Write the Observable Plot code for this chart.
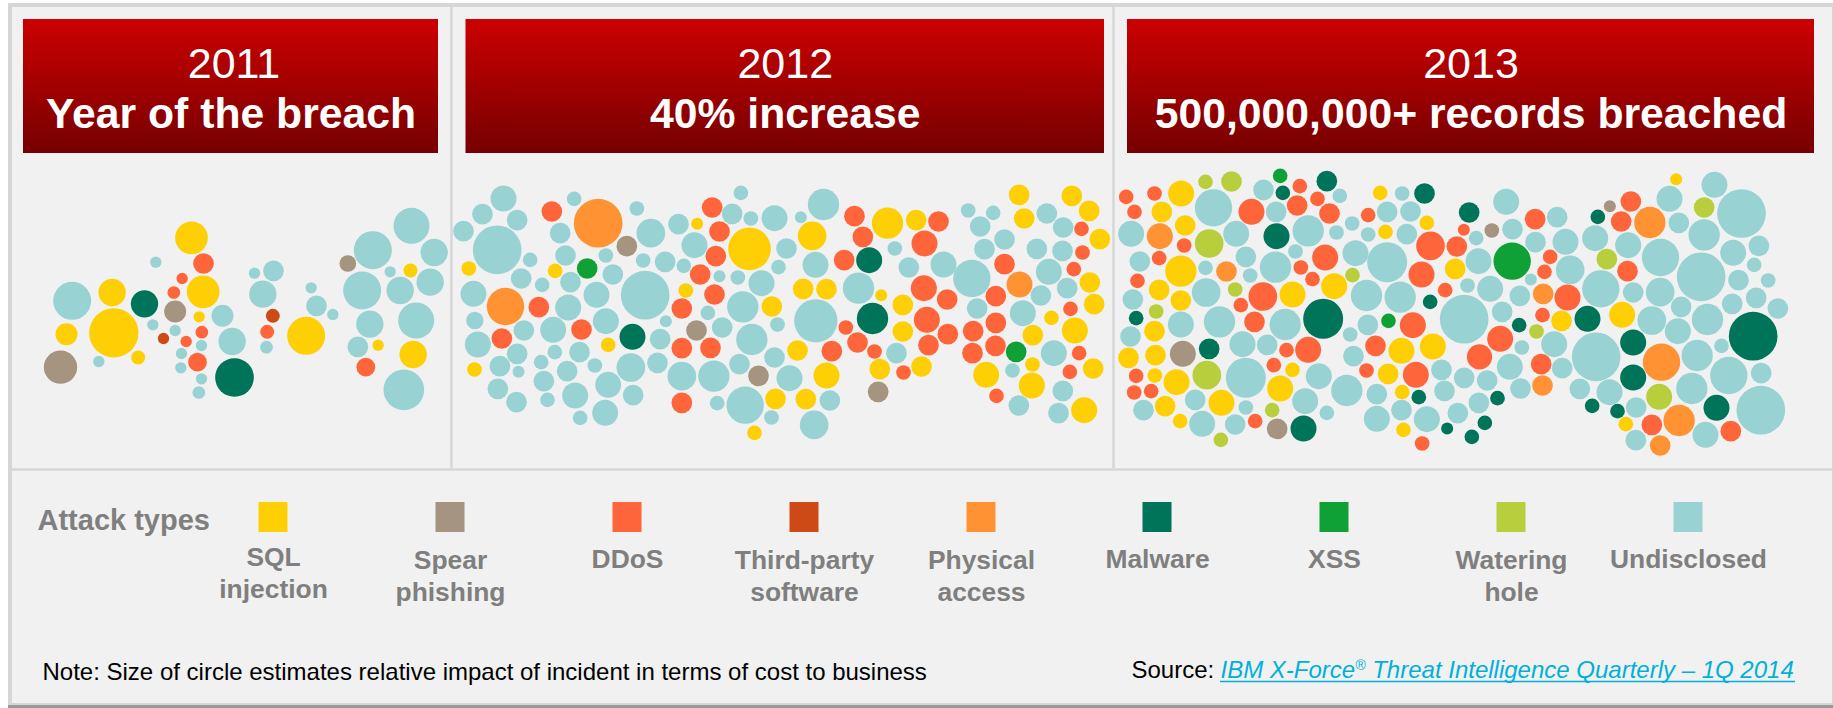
<!DOCTYPE html>
<html><head><meta charset="utf-8">
<script src="https://cdn.jsdelivr.net/npm/d3@7"></script>
<script src="https://cdn.jsdelivr.net/npm/@observablehq/plot@0.6"></script>
<style>html,body{margin:0;background:#fff}svg{display:block}</style></head><body>
<script>
const typeKeys=["S","P","D","T","A","M","X","W","U"];
const typeColors=["#FFCF06","#A5947F","#FF653B","#CD4A16","#FF9333","#007458","#0FA136","#B8CE3D","#98D2D3"];
const legendLine1=["SQL","Spear","DDoS","Third-party","Physical","Malware","XSS","Watering","Undisclosed"];
const legendLine2=["injection","phishing","","software","access","","","hole",""];
const legendX=[273,450,627,804,981,1157,1334,1511,1688];
const legendY1=[565,568,567,568,568,567,567,568,567];
const legendY2=[597,600,600,600,600,600,600,600,600];
const panelLeft=[23,465.5,1127];
const panelRight=[438,1104,1814];
const panelYear=["2011","2012","2013"];
const panelHead=["Year of the breach","40% increase","500,000,000+ records breached"];
// bubbles, in 3x units relative to a section origin: [x,y,r,type]
const sec2011=[[215,451,57,"U"],[335,426,41,"S"],[432,460,41,"M"],[198,551,33,"S"],[340,547,74,"S"],[180,650,50,"P"],[295,633,17,"U"],[413,621,21,"S"],[466,335,17,"U"],[573,262,49,"S"],[609,339,31,"D"],[545,384,17,"D"],[608,424,49,"S"],[520,426,19,"D"],[524,483,33,"P"],[596,499,17,"S"],[457,523,17,"U"],[524,540,17,"U"],[604,545,19,"D"],[489,564,17,"T"],[557,573,17,"D"],[603,585,17,"U"],[543,609,17,"U"],[591,635,28,"D"],[541,652,17,"U"],[603,685,17,"U"],[595,726,19,"U"],[666,496,33,"U"],[695,573,41,"U"],[702,681,58,"M"],[762,368,17,"U"],[819,361,31,"U"],[787,431,41,"U"],[817,496,21,"T"],[800,544,21,"D"],[798,590,19,"U"],[917,556,57,"S"],[932,412,17,"U"],[948,466,31,"U"],[997,492,17,"U"],[1042,339,25,"P"],[1117,299,57,"U"],[1233,226,54,"U"],[1301,306,41,"U"],[1169,364,17,"U"],[1230,360,21,"S"],[1289,395,41,"U"],[1085,420,57,"U"],[1199,420,41,"U"],[1247,510,54,"U"],[1108,521,41,"U"],[1072,589,31,"U"],[1133,584,17,"S"],[1238,612,41,"S"],[1096,650,28,"D"],[1210,718,61,"U"]];
const sec2012a=[[159,114,39,"U"],[96,161,31,"U"],[200,179,31,"U"],[39,212,31,"U"],[140,268,73,"U"],[239,298,22,"U"],[304,153,31,"D"],[371,115,22,"U"],[329,218,31,"U"],[443,188,73,"A"],[559,144,22,"U"],[601,218,43,"U"],[529,257,31,"P"],[684,191,31,"U"],[740,190,18,"S"],[785,141,31,"D"],[845,160,31,"U"],[871,97,22,"U"],[901,174,22,"U"],[807,213,31,"D"],[732,254,39,"U"],[796,287,31,"D"],[897,265,64,"S"],[345,285,31,"U"],[466,285,22,"U"],[55,324,22,"S"],[314,331,22,"S"],[410,324,31,"X"],[578,300,22,"U"],[644,304,31,"U"],[700,316,22,"U"],[212,354,31,"U"],[275,373,22,"U"],[360,365,31,"U"],[487,342,31,"U"],[749,342,31,"D"],[807,347,18,"U"],[862,351,22,"U"],[69,400,39,"U"],[165,438,56,"A"],[265,440,31,"D"],[353,441,39,"U"],[438,403,39,"U"],[584,404,73,"U"],[706,390,22,"S"],[792,402,31,"D"],[694,444,31,"D"],[877,439,47,"U"],[73,480,26,"U"],[466,482,39,"U"],[393,507,31,"D"],[646,482,18,"U"],[772,457,22,"U"],[738,510,31,"P"],[815,501,31,"U"],[220,510,31,"U"],[308,508,39,"U"],[154,534,31,"D"],[546,529,39,"M"],[629,536,31,"U"],[904,537,47,"U"],[82,552,39,"U"],[473,553,22,"S"],[694,563,31,"D"],[780,562,31,"D"],[200,580,31,"U"],[313,575,22,"U"],[387,575,31,"U"],[272,605,22,"U"],[148,617,31,"U"],[72,627,22,"S"],[433,615,22,"U"],[541,621,43,"U"],[621,607,31,"U"],[867,611,31,"U"],[924,646,31,"P"],[350,632,31,"U"],[204,634,18,"U"],[280,662,31,"U"],[694,647,43,"U"],[790,647,47,"U"],[473,673,39,"U"],[142,685,31,"U"],[374,705,39,"U"],[548,704,31,"U"],[198,725,31,"U"],[291,718,22,"U"],[694,727,31,"D"],[800,728,22,"U"],[884,734,56,"U"],[464,757,39,"U"],[389,772,22,"U"],[912,817,22,"S"]];
const sec2012b=[[3,368,39,"U"],[189,132,47,"U"],[42,173,39,"U"],[121,170,18,"U"],[155,226,43,"S"],[282,167,31,"D"],[381,188,47,"S"],[467,179,31,"S"],[534,183,31,"D"],[307,229,31,"D"],[492,249,39,"D"],[78,264,31,"U"],[54,320,22,"U"],[165,313,39,"U"],[251,299,31,"D"],[326,299,39,"M"],[403,264,22,"U"],[445,321,31,"U"],[549,312,39,"U"],[634,354,56,"U"],[623,150,22,"U"],[698,157,22,"U"],[659,198,31,"U"],[776,103,31,"S"],[791,174,31,"S"],[934,106,31,"S"],[859,159,31,"U"],[986,151,31,"S"],[908,201,31,"U"],[963,205,22,"D"],[1018,236,31,"S"],[732,237,31,"U"],[672,266,31,"U"],[829,265,31,"U"],[906,271,31,"U"],[966,276,22,"D"],[732,311,31,"D"],[865,334,39,"U"],[940,326,22,"D"],[777,372,39,"A"],[988,366,31,"S"],[920,383,31,"U"],[841,405,31,"U"],[706,407,31,"D"],[128,385,31,"S"],[198,386,31,"S"],[294,383,47,"U"],[362,404,18,"S"],[490,383,39,"D"],[560,417,31,"D"],[650,444,31,"U"],[34,438,31,"S"],[427,433,31,"S"],[1001,431,31,"S"],[930,445,22,"D"],[787,458,39,"U"],[873,472,22,"S"],[51,492,22,"U"],[166,481,65,"U"],[336,474,47,"M"],[499,478,39,"D"],[256,501,22,"D"],[706,487,31,"D"],[943,510,39,"S"],[638,512,31,"D"],[427,513,31,"S"],[562,521,31,"D"],[817,524,31,"S"],[291,546,31,"D"],[504,554,31,"D"],[705,556,31,"D"],[111,570,31,"S"],[214,572,31,"D"],[342,573,22,"D"],[408,578,31,"U"],[767,574,31,"X"],[636,578,31,"D"],[880,578,39,"U"],[956,578,22,"D"],[42,591,31,"U"],[483,618,31,"S"],[358,626,31,"S"],[198,645,39,"S"],[87,653,39,"U"],[429,636,22,"D"],[677,643,39,"S"],[816,612,22,"S"],[756,630,22,"U"],[928,634,22,"D"],[998,624,31,"S"],[814,675,39,"S"],[353,694,31,"P"],[907,691,31,"U"],[45,715,31,"S"],[136,716,31,"S"],[208,720,31,"U"],[708,706,22,"D"],[775,735,31,"U"],[894,758,31,"U"],[971,749,39,"S"],[33,771,22,"U"],[161,793,43,"U"]];
const sec2013a=[[47,109,22,"D"],[72,154,22,"D"],[132,99,22,"D"],[212,99,39,"S"],[285,64,22,"W"],[363,63,31,"W"],[154,154,31,"S"],[309,142,56,"U"],[459,88,31,"U"],[509,46,22,"X"],[517,97,22,"M"],[568,77,22,"D"],[649,62,31,"M"],[688,106,22,"U"],[621,115,22,"D"],[560,135,31,"D"],[423,154,39,"D"],[497,154,31,"U"],[657,159,31,"D"],[62,220,39,"U"],[148,227,39,"A"],[224,195,31,"S"],[377,220,39,"U"],[296,249,43,"W"],[498,227,39,"M"],[593,211,47,"U"],[678,216,22,"U"],[221,255,22,"D"],[725,189,22,"U"],[773,164,22,"D"],[830,154,31,"U"],[809,97,22,"S"],[875,99,22,"U"],[942,99,31,"M"],[900,153,31,"U"],[949,187,22,"S"],[773,222,22,"U"],[825,214,22,"S"],[889,221,31,"U"],[88,303,31,"U"],[146,293,22,"D"],[406,289,31,"U"],[555,273,22,"U"],[644,291,39,"D"],[735,278,39,"U"],[830,305,60,"U"],[960,256,43,"D"],[1039,258,31,"D"],[1076,156,31,"M"],[1060,208,18,"D"],[1034,325,31,"S"],[211,332,47,"S"],[285,322,22,"U"],[348,333,31,"A"],[419,345,22,"U"],[495,320,47,"U"],[571,321,22,"D"],[606,356,22,"D"],[726,344,22,"W"],[933,342,39,"D"],[671,377,39,"S"],[81,361,22,"D"],[146,388,31,"S"],[287,396,43,"U"],[374,387,22,"W"],[457,408,43,"D"],[546,402,39,"S"],[768,405,47,"U"],[869,410,47,"U"],[1004,389,22,"D"],[1071,375,22,"U"],[67,417,31,"U"],[211,420,31,"S"],[391,434,22,"D"],[959,424,22,"M"],[137,453,22,"W"],[77,473,22,"M"],[327,484,47,"U"],[432,484,31,"D"],[524,492,47,"U"],[638,475,60,"M"],[772,493,31,"U"],[834,481,22,"X"],[907,494,39,"D"],[1061,476,73,"U"],[211,492,39,"U"],[132,512,31,"S"],[60,528,31,"U"],[719,522,22,"U"],[396,551,39,"U"],[470,553,31,"U"],[296,565,31,"M"],[217,580,39,"P"],[135,584,31,"S"],[54,592,31,"S"],[528,569,22,"D"],[593,568,39,"D"],[795,556,31,"D"],[873,571,39,"S"],[967,558,39,"S"],[729,587,31,"U"],[490,614,22,"D"],[546,628,22,"S"],[625,647,39,"U"],[768,630,22,"D"],[833,640,31,"S"],[916,643,39,"D"],[993,628,31,"U"],[1061,652,31,"U"],[77,646,22,"D"],[133,645,22,"S"],[198,665,39,"S"],[289,644,43,"W"],[406,652,60,"U"],[709,690,47,"U"],[71,696,22,"D"],[122,692,22,"D"],[509,684,39,"S"],[799,701,31,"U"],[875,695,22,"S"],[1002,691,31,"U"],[925,710,22,"M"],[254,718,31,"U"],[333,727,39,"S"],[584,722,39,"U"],[99,749,31,"U"],[164,737,31,"S"],[406,741,22,"U"],[485,749,22,"W"],[649,757,22,"U"],[873,749,31,"U"],[799,775,39,"U"],[949,776,39,"U"],[1042,758,31,"U"],[209,782,22,"S"],[275,790,39,"U"],[374,792,31,"U"],[434,782,22,"D"],[500,805,31,"P"],[579,804,39,"M"],[879,808,22,"S"],[1010,804,18,"M"],[331,838,22,"W"],[935,849,22,"D"]];
const sec2013b=[[107,124,39,"U"],[194,176,31,"D"],[260,170,31,"U"],[126,206,31,"U"],[64,210,22,"P"],[17,233,22,"U"],[195,245,31,"U"],[285,244,39,"U"],[125,302,56,"X"],[239,289,22,"D"],[222,334,22,"D"],[24,302,39,"U"],[299,328,43,"U"],[181,357,18,"U"],[59,385,39,"U"],[148,406,31,"U"],[218,400,31,"A"],[291,411,39,"D"],[95,454,31,"U"],[216,464,22,"D"],[273,481,31,"S"],[351,475,39,"M"],[146,494,22,"M"],[198,513,22,"W"],[89,535,39,"D"],[251,551,39,"U"],[154,561,22,"U"],[27,589,38,"D"],[118,619,39,"U"],[212,611,31,"D"],[275,623,31,"U"],[377,589,73,"U"],[50,660,31,"U"],[150,684,31,"U"],[216,675,31,"A"],[81,713,22,"M"],[25,727,31,"U"],[328,685,31,"U"],[417,695,39,"U"],[365,736,22,"M"],[43,787,22,"M"],[4,829,22,"M"],[418,137,18,"P"],[481,123,31,"D"],[382,169,22,"M"],[452,183,31,"D"],[374,233,39,"U"],[409,296,31,"W"],[473,254,39,"U"],[538,186,47,"A"],[597,115,39,"U"],[617,56,18,"S"],[732,73,39,"U"],[701,141,31,"W"],[625,187,31,"U"],[813,159,73,"U"],[701,223,47,"U"],[570,291,56,"U"],[471,332,31,"D"],[865,256,31,"U"],[788,277,39,"U"],[851,313,22,"U"],[692,349,73,"U"],[391,385,56,"U"],[804,359,31,"U"],[893,360,22,"U"],[488,396,31,"U"],[569,395,43,"U"],[632,439,31,"U"],[857,412,31,"U"],[785,430,31,"U"],[922,444,31,"U"],[455,463,39,"S"],[544,480,43,"U"],[711,477,47,"U"],[622,512,39,"U"],[848,527,73,"M"],[488,546,39,"M"],[753,556,22,"U"],[680,585,47,"U"],[573,605,56,"A"],[775,645,56,"U"],[872,638,31,"U"],[488,651,39,"M"],[664,684,47,"U"],[566,709,39,"W"],[497,741,31,"U"],[441,752,22,"M"],[738,742,39,"M"],[871,749,73,"U"],[466,791,22,"S"],[544,793,31,"D"],[626,780,47,"A"],[781,812,31,"D"],[705,823,39,"U"],[496,839,31,"U"],[569,855,31,"A"]];

const sections=[[sec2011,0,150],[sec2012a,450,160],[sec2012b,760,160],[sec2013a,1110,160],[sec2013b,1470,160]];
const bubbles=sections.flatMap(([rows,x0,y0])=>rows.map(([x,y,r,t])=>({x:x0+x/3,y:y0+y/3,r:r/3,t})));
const legend=typeKeys.map((t,i)=>({t,x:legendX[i],l1:legendLine1[i],l2:legendLine2[i],y1:legendY1[i],y2:legendY2[i]}));
const panels=panelYear.map((year,i)=>({year,head:panelHead[i],x1:panelLeft[i],x2:panelRight[i],cx:(panelLeft[i]+panelRight[i])/2}));
const font="Liberation Sans, Arial, sans-serif";
const defs=()=>{const s=d3.create("svg:defs");const g=s.append("linearGradient").attr("id","banner").attr("x1",0).attr("x2",0).attr("y1",0).attr("y2",1);
 g.append("stop").attr("offset","0%").attr("stop-color","#CC0000");g.append("stop").attr("offset","100%").attr("stop-color","#760000");return s.node();};
const chart=Plot.plot({width:1833,height:708,margin:0,style:{background:"#fff",fontFamily:font},
 x:{domain:[0,1833],range:[0,1833],axis:null},y:{domain:[0,708],range:[0,708],axis:null},
 r:{type:"linear",domain:[0,30],range:[0,30]},
 color:{type:"ordinal",domain:typeKeys,range:typeColors},
 marks:[defs,
  Plot.rect([{}],{x1:()=>8,x2:()=>1833,y1:()=>3,y2:()=>708,fill:"#D6D6D6"}),
  Plot.rect([{}],{x1:()=>8,x2:()=>1833,y1:()=>705,y2:()=>708,fill:"#9A9A9A"}),
  Plot.rect([{}],{x1:()=>12,x2:()=>1832,y1:()=>7,y2:()=>703,fill:"#F1F1F1"}),
  Plot.ruleX([451,1113],{y1:7,y2:468,stroke:"#D6D6D6",strokeWidth:2.5}),
  Plot.ruleY([469],{x1:12,x2:1832,stroke:"#D6D6D6",strokeWidth:2.5}),
  Plot.rect(panels,{x1:"x1",x2:"x2",y1:()=>19,y2:()=>153,fill:"url(#banner)"}),
  Plot.text(panels,{x:d=>d.cx+(d.year==="2011"?3:0),y:()=>77,text:"year",fill:"#fff",fontSize:43,lineAnchor:"bottom"}),
  Plot.text(panels,{x:"cx",y:()=>127.5,text:"head",fill:"#fff",fontSize:42.7,fontWeight:"bold",lineAnchor:"bottom"}),
  Plot.dot(bubbles,{x:"x",y:"y",r:"r",fill:"t"}),
  Plot.rect(legend,{x1:d=>d.x-14.5,x2:d=>d.x+14.5,y1:()=>502,y2:()=>532,fill:"t"}),
  Plot.text(["Attack types"],{x:()=>37,y:()=>529,text:d=>d,textAnchor:"start",fontSize:29,fontWeight:"bold",fill:"#7F7F7F",lineAnchor:"bottom"}),
  Plot.text(legend,{x:"x",y:"y1",text:"l1",fontSize:26.4,fontWeight:"bold",fill:"#7F7F7F",lineAnchor:"bottom"}),
  Plot.text(legend,{x:"x",y:"y2",text:"l2",fontSize:26.4,fontWeight:"bold",fill:"#7F7F7F",lineAnchor:"bottom"}),
  Plot.text(["Note: Size of circle estimates relative impact of incident in terms of cost to business"],{x:()=>42,y:()=>679,text:d=>d,textAnchor:"start",fontSize:24,fill:"#000",lineAnchor:"bottom"}),
  Plot.text(["Source:"],{x:()=>1131,y:()=>677,text:d=>d,textAnchor:"start",fontSize:24,fill:"#000",lineAnchor:"bottom"}),
  Plot.text(["IBM X-Force® Threat Intelligence Quarterly – 1Q 2014"],{x:()=>1220,y:()=>677,text:d=>d,textAnchor:"start",fontSize:24,fontStyle:"italic",fill:"#00B0DA",lineAnchor:"bottom",className:"link"}),
  Plot.ruleY([681],{x1:1220,x2:1795,stroke:"#00B0DA",strokeWidth:1.5})
 ]});
document.body.append(chart);
// superscript the registered mark inside the source link
const linkText=d3.select(chart).select(".link text");
const [before,after]=linkText.text().split("®");
linkText.text(before);
linkText.append("tspan").attr("dy","-8px").attr("font-size","14px").text("®");
linkText.append("tspan").attr("dy","8px").text(after);
</script></body></html>
